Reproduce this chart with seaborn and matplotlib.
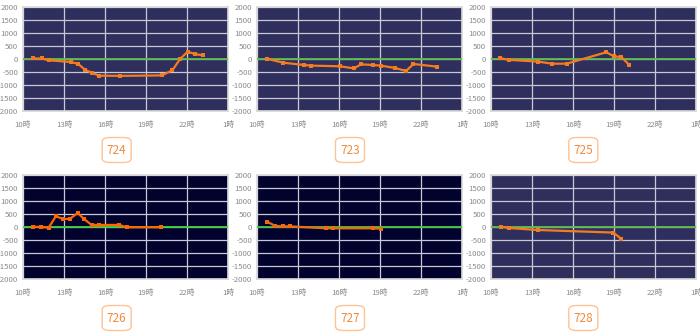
import matplotlib
matplotlib.use("Agg")
import matplotlib.pyplot as plt
import seaborn as sns
import pandas as pd
from matplotlib.patches import FancyBboxPatch

sns.set_theme(style="dark")
plt.rcParams['font.family'] = ['Noto Sans CJK JP', 'DejaVu Sans']

# ---- data (hours from 10時; 25 = 翌1時) ----
names = ["724", "723", "725", "726", "727", "728"]

x724 = [10.73, 11.39, 11.9, 13.5, 14.04, 14.55, 15.08, 15.57, 17.11, 20.15, 20.93, 21.49, 22.05, 22.59, 23.15]
y724 = [20, 20, -50, -115, -190, -420, -540, -640, -650, -630, -435, 0, 280, 190, 140]

x723 = [10.73, 11.9, 13.44, 13.98, 16.07, 17.09, 17.61, 18.47, 19.05, 20.1, 20.91, 21.45, 23.16]
y723 = [10, -140, -230, -255, -280, -360, -205, -230, -255, -345, -460, -190, -295]

x725 = [10.69, 11.35, 13.43, 14.48, 15.53, 18.44, 19.0, 19.54, 20.1]
y725 = [30, -35, -100, -180, -180, 260, 100, 80, -220]

x726 = [10.73, 11.35, 11.88, 12.4, 12.94, 13.43, 14.0, 14.48, 15.02, 15.55, 17.05, 17.58, 20.1]
y726 = [10, 0, -25, 410, 310, 310, 540, 300, 80, 80, 80, -10, -10]

x727 = [10.73, 11.35, 11.88, 12.4, 15.06, 15.58, 18.5, 19.05]
y727 = [205, 40, 25, 25, -50, -50, -50, -65]

x728 = [10.73, 11.34, 13.41, 18.95, 19.51]
y728 = [10, -40, -115, -215, -445]

xs = [x724, x723, x725, x726, x727, x728]
ys = [y724, y723, y725, y726, y727, y728]

xtick_vals = [10, 13, 16, 19, 22, 25]
xtick_labels = ["10時", "13時", "16時", "19時", "22時", "1時"]
ytick_vals = [2000, 1500, 1000, 500, 0, -500, -1000, -1500, -2000]

bg_colors = ["#2f2f5d", "#2f2f5d", "#2f2f5d", "#02022f", "#02022f", "#2f2f5d"]
line_colors = ["#f47b20", "#f47b20", "#f47b20", "#ff6600", "#f26a10", "#f47b20"]
zero_colors = ["#5dbb4a", "#5dbb4a", "#5dbb4a", "#3cd23c", "#3cc83c", "#5dbb4a"]

W, H = 700, 336
fig = plt.figure(figsize=(W / 100, H / 100), dpi=100)
fig.patch.set_facecolor("white")

lefts = [23, 257, 491]
tops = [7, 175]
pw, ph = 205, 104

for i, name in enumerate(names):
    r, c = divmod(i, 3)
    l, t = lefts[c], tops[r]
    ax = fig.add_axes([l / W, 1 - (t + ph) / H, pw / W, ph / H])
    ax.set_facecolor(bg_colors[i])
    ax.set_xlim(10, 25)
    ax.set_ylim(-2000, 2000)
    ax.set_xticks(xtick_vals)
    ax.set_xticklabels(xtick_labels)
    ax.set_yticks(ytick_vals)
    ax.set_yticklabels([str(v) for v in ytick_vals])
    ax.grid(True, color="#c9c9d6", linewidth=0.9)
    ax.axhline(0, color=zero_colors[i], linewidth=1.3, zorder=3)
    df = pd.DataFrame({"hour": xs[i], "value": ys[i]})
    sns.lineplot(data=df, x="hour", y="value", ax=ax, color=line_colors[i],
                 marker="s", markersize=3, markeredgewidth=0, linewidth=1.6,
                 zorder=4)
    ax.set_xlabel("")
    ax.set_ylabel("")
    ax.tick_params(axis="both", labelsize=5.6, colors="#8a8a8a", length=2,
                   width=0.6, pad=1.5)
    ax.tick_params(axis="x", length=0, pad=7)
    for s in ax.spines.values():
        s.set_color("#d8d8d8")
        s.set_linewidth(1.2)
    # label box
    cx = (c * W / 3 + W / 6) / W
    cy = 1 - (t + 143) / H
    fig.text(cx, cy, name, ha="center", va="center", fontsize=8.5,
             color="#f28a3c", family=['Noto Sans CJK JP', 'DejaVu Sans'])
    bw, bh = 29 / W, 25 / H
    box = FancyBboxPatch((cx - bw / 2, cy - bh / 2), bw, bh,
                         boxstyle="round,pad=0,rounding_size=0.012",
                         transform=fig.transFigure, facecolor="white",
                         edgecolor="#ffc294", linewidth=1.0, zorder=0)
    fig.patches.append(box)

fig.savefig("out.png", dpi=100, facecolor="white")
